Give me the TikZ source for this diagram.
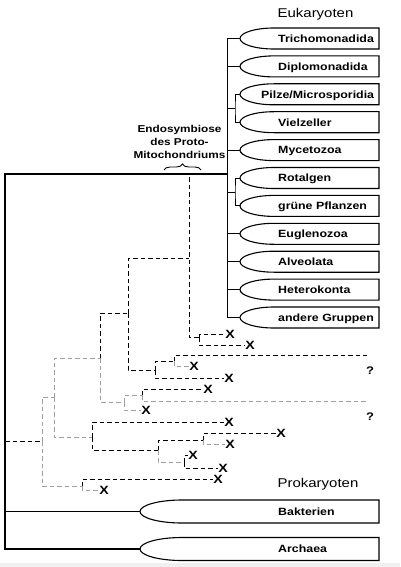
\documentclass[tikz,border=0pt]{standalone}
\usepackage{fontspec}
\setmainfont{Liberation Sans}[FakeStretch=1.18]
\usetikzlibrary{decorations.pathreplacing}

\tikzset{
  ast/.style={line width=1pt},
  stammlinie/.style={line width=1.2pt},
  kasten/.style={line width=1.1pt},
  lin/.style={dash pattern=on 4.5pt off 3pt, line width=.9pt},
  linhell/.style={lin, gray!75, line width=.8pt},
  gname/.style={font=\fontsize{10.5}{12}\selectfont\bfseries, anchor=base west, inner sep=0pt},
  kreuz/.style={font=\fontsize{12}{14}\selectfont\bfseries, inner sep=.3pt},
  frage/.style={font=\fontsize{11}{13}\selectfont\bfseries, inner sep=0pt},
  reich/.style={font=\fontsize{12.7}{15}\selectfont, anchor=base, inner sep=0pt}
}

% Kasten mit runder Spitze: Name, Spitze x, Mitte y, halbe Hoehe, Radius
\newcommand{\grpkasten}[5]{%
  \coordinate (#1) at (#2,#3);
  \draw[kasten] (379,#3-#4) -- (#2+#5,#3-#4)
    arc[start angle=270, end angle=90, x radius=#5, y radius=#4]
    -- (379,#3+#4) -- cycle;
}

\begin{document}
\begin{tikzpicture}[x=1pt, y=-1pt]
    \fill[white] (0,0) rectangle (400,567);
    \useasboundingbox (0,0) rectangle (400,567);
    \fill[gray!12] (0,563) rectangle (400,567);

    % Eukaryoten
    \node[reich] (eukar) at (315.5,17.3) {Eukaryoten};
    \foreach \n/\t/\tx [count=\i from 0] in {trich/Trichomonadida/278, diplo/Diplomonadida/278,
        pilze/{Pilze/Microsporidia}/261, vielz/Vielzeller/278, myceto/Mycetozoa/278,
        rotalg/Rotalgen/278, gruen/grüne Pflanzen/278, eugleno/Euglenozoa/278,
        alveo/Alveolata/278, hetero/Heterokonta/278, andere/andere Gruppen/278}{
        \pgfmathsetmacro\yy{38.5+27.9*\i}
        \grpkasten{\n}{240}{\yy}{10.5}{34}
        \node[gname] (\n-t) at (\tx,\yy+3.8) {\t};
    }
    \coordinate (euk) at (227,174);
    \coordinate (pv) at (235,108.3);
    \coordinate (rg) at (235,192);
    \foreach \n in {trich,diplo,myceto,eugleno,alveo,hetero,andere,pv,rg}{
        \draw[ast] (euk) |- (\n);
    }
    \draw[ast] (pilze) -| (pv) |- (vielz);
    \draw[ast] (rotalg) -| (rg) |- (gruen);

    % Prokaryoten
    \node[reich] (prokar) at (318,487.5) {Prokaryoten};
    \grpkasten{bakt}{140}{511.5}{11.5}{42}
    \node[gname] (bakt-t) at (278,515.3) {Bakterien};
    \grpkasten{arch}{140}{549}{11.5}{42}
    \node[gname] (arch-t) at (278,552.8) {Archaea};

    \coordinate (links) at (5,300);
    \draw[stammlinie] (euk) -| (links) |- (arch);
    \draw[stammlinie] (links) |- (bakt);

    % Endosymbiose
    \node[font=\fontsize{10}{13.4}\selectfont\bfseries, align=center, inner sep=0pt]
        (endo) at (179.5,142) {Endosymbiose\\des Proto-\\Mitochondriums};
    \draw[line width=.9pt, decorate, decoration={brace, amplitude=6pt}] (164,170) -- (201,170);

    % ausgestorbene Linien
    \node[kreuz] (x1) at (230,334) {X};
    \node[kreuz] (x2) at (250,345) {X};
    \node[kreuz] (x3) at (194,366) {X};
    \node[kreuz] (x4) at (229,378) {X};
    \node[kreuz] (x5) at (208,389) {X};
    \node[kreuz] (x6) at (146,410) {X};
    \node[kreuz] (x7) at (229,422) {X};
    \node[kreuz] (x8) at (281,433) {X};
    \node[kreuz] (x9) at (230,444) {X};
    \node[kreuz] (x10) at (193,455) {X};
    \node[kreuz] (x11) at (223,468) {X};
    \node[kreuz] (x12) at (218,479) {X};
    \node[kreuz] (x13) at (104,490) {X};
    \coordinate (q1) at (367,355);
    \coordinate (q2) at (367,401);
    \node[frage] (f1) at (370,371) {?};
    \node[frage] (f2) at (370,417) {?};

    % Verzweigungen
    \coordinate (wurzel) at (5,441);
    \coordinate (p0) at (42,441);
    \coordinate (a) at (54,397);
    \coordinate (b) at (100,358);
    \coordinate (c) at (128,313);
    \coordinate (mito) at (189,177);
    \coordinate (d) at (189,258);
    \coordinate (e) at (199,337);
    \coordinate (f) at (155,370);
    \coordinate (g) at (174,361);
    \coordinate (h) at (124,402);
    \coordinate (i) at (142,395);
    \coordinate (j) at (92,437);
    \coordinate (k) at (158,450);
    \coordinate (l) at (203,440);
    \coordinate (m) at (184,462);
    \coordinate (n) at (82,486);

    \draw[lin] (wurzel) -- (p0);
    \draw[linhell] (p0) |- (a);
    \draw[linhell] (p0) |- (n);
    \draw[linhell] (a) |- (b);
    \draw[linhell] (a) |- (j);
    \draw[lin] (b) |- (c);
    \draw[linhell] (b) |- (h);
    \draw[lin] (c) |- (d);
    \draw[lin] (c) |- (f);
    \draw[lin] (mito) |- (e);
    \draw[lin] (e) |- (x1.west);
    \draw[lin] (e) |- (x2.west);
    \draw[lin] (f) |- (g);
    \draw[lin] (f) |- (x4.west);
    \draw[lin] (g) |- (q1);
    \draw[linhell] (g) |- (x3.west);
    \draw[linhell] (h) |- (i);
    \draw[linhell] (h) |- (x6.west);
    \draw[lin] (i) |- (x5.west);
    \draw[linhell] (i) |- (q2);
    \draw[lin] (j) |- (x7.west);
    \draw[lin] (j) |- (k);
    \draw[lin] (k) |- (l);
    \draw[linhell] (k) |- (m);
    \draw[lin] (l) |- (x8.west);
    \draw[linhell] (l) |- (x9.west);
    \draw[lin] (m) |- (x10.west);
    \draw[lin] (m) |- (x11.west);
    \draw[lin] (n) |- (x12.west);
    \draw[linhell] (n) |- (x13.west);
\end{tikzpicture}
\end{document}
